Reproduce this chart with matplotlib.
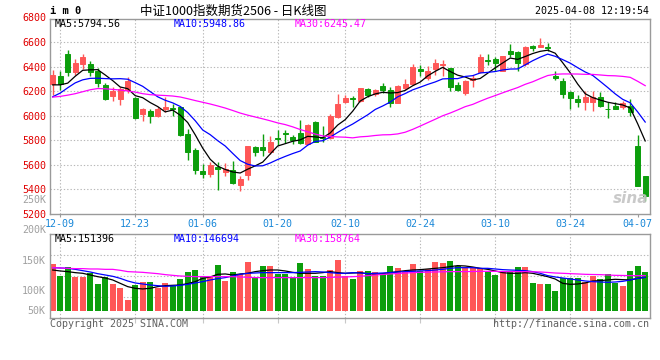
import matplotlib
matplotlib.use("Agg")
import matplotlib.pyplot as plt

plt.rcParams['font.family'] = ['DejaVu Sans Mono']

# ---------------- data ----------------
dates = ['12-06',
         '12-09', '12-10', '12-11', '12-12', '12-13',
         '12-16', '12-17', '12-18', '12-19', '12-20',
         '12-23', '12-24', '12-25', '12-26', '12-27',
         '12-30', '12-31', '01-02', '01-03',
         '01-06', '01-07', '01-08', '01-09', '01-10',
         '01-13', '01-14', '01-15', '01-16', '01-17',
         '01-20', '01-21', '01-22', '01-23', '01-24',
         '01-27', '02-05', '02-06', '02-07',
         '02-10', '02-11', '02-12', '02-13', '02-14',
         '02-17', '02-18', '02-19', '02-20', '02-21',
         '02-24', '02-25', '02-26', '02-27', '02-28',
         '03-03', '03-04', '03-05', '03-06', '03-07',
         '03-10', '03-11', '03-12', '03-13', '03-14',
         '03-17', '03-18', '03-19', '03-20', '03-21',
         '03-24', '03-25', '03-26', '03-27', '03-28',
         '03-31', '04-01', '04-02', '04-03',
         '04-07', '04-08']

opens = [6260, 6325, 6505, 6353, 6423, 6423, 6366, 6252, 6165, 6135,
         6211, 6143, 6016, 6040, 5994, 6054, 6062, 6070, 5853, 5722,
         5551, 5527, 5581, 5538, 5560, 5432, 5513, 5742, 5742, 5701,
         5818, 5858, 5826, 5858, 5771, 5953, 5826, 5818, 5989, 6116,
         6143, 6122, 6220, 6176, 6244, 6206, 6108, 6230, 6260, 6380,
         6304, 6380, 6412, 6388, 6252, 6184, 6293, 6353, 6456, 6464,
         6366, 6532, 6516, 6423, 6570, 6564, 6564, 6328, 6285, 6190,
         6138, 6116, 6116, 6152, 6059, 6076, 6070, 6076, 5755, 5505]
highs = [6374, 6361, 6537, 6461, 6505, 6448, 6388, 6271, 6238, 6238,
         6320, 6157, 6067, 6054, 6075, 6157, 6097, 6081, 5891, 5736,
         5608, 5619, 5622, 5614, 5633, 5505, 5755, 5750, 5853, 5837,
         5885, 5880, 5842, 5967, 5930, 5961, 5913, 6016, 6179, 6171,
         6162, 6228, 6228, 6220, 6266, 6233, 6252, 6298, 6423, 6412,
         6407, 6461, 6453, 6393, 6279, 6293, 6334, 6505, 6505, 6483,
         6488, 6586, 6524, 6570, 6578, 6632, 6592, 6369, 6306, 6198,
         6171, 6198, 6203, 6190, 6116, 6116, 6124, 6135, 5845, 5505]
lows = [6170, 6211, 6325, 6333, 6380, 6325, 6238, 6130, 6124, 6089,
        6184, 5972, 5961, 5945, 5990, 6027, 6000, 5837, 5636, 5527,
        5489, 5497, 5397, 5505, 5445, 5383, 5473, 5674, 5674, 5690,
        5763, 5777, 5769, 5771, 5771, 5785, 5790, 5809, 5985, 6108,
        6070, 6116, 6152, 6165, 6184, 6070, 6103, 6206, 6252, 6328,
        6293, 6334, 6322, 6203, 6198, 6171, 6233, 6347, 6415, 6361,
        6361, 6483, 6369, 6407, 6524, 6559, 6524, 6293, 6143, 6054,
        6070, 6043, 6040, 6070, 5980, 6054, 6057, 6002, 5424, 5301]
closes = [6333, 6260, 6353, 6429, 6478, 6353, 6266, 6138, 6198, 6217,
          6287, 5980, 6054, 6000, 6054, 6070, 6054, 5845, 5701, 5554,
          5527, 5600, 5565, 5565, 5451, 5486, 5755, 5701, 5717, 5782,
          5812, 5850, 5799, 5774, 5926, 5790, 5815, 5994, 6097, 6146,
          6135, 6228, 6171, 6211, 6211, 6108, 6244, 6260, 6401, 6361,
          6361, 6429, 6420, 6233, 6211, 6287, 6306, 6483, 6448, 6429,
          6488, 6505, 6429, 6564, 6551, 6578, 6551, 6306, 6176, 6143,
          6116, 6157, 6149, 6076, 6054, 6059, 6103, 6027, 5429, 5342]

ma5 = [6252, 6252, 6266, 6322, 6370.6, 6374.6, 6375.8, 6332.8, 6286.6, 6234.4,
       6221.2, 6164, 6147.2, 6107.6, 6075, 6031.6, 6046.4, 6004.6, 5944.8, 5844.8,
       5736.2, 5645.4, 5589.4, 5562.2, 5541.6, 5533.4, 5564.4, 5591.6, 5622, 5688.2,
       5753.4, 5772.4, 5792, 5803.4, 5832.2, 5827.8, 5820.8, 5859.8, 5924.4, 5968.4,
       6037.4, 6120, 6155.4, 6178.2, 6191.2, 6185.8, 6189, 6206.8, 6244.8, 6274.8,
       6325.4, 6362.4, 6394.4, 6360.8, 6330.8, 6316, 6291.4, 6304, 6347, 6390.6,
       6430.8, 6470.6, 6459.8, 6483, 6507.4, 6525.4, 6534.6, 6510, 6432.4, 6350.8,
       6258.4, 6179.6, 6148.2, 6128.2, 6110.4, 6099, 6088.2, 6063.8, 5934.4, 5794.56]
ma10 = [6155, 6185, 6228, 6268, 6293, 6305, 6306, 6303, 6301, 6302.5,
        6297.9, 6269.9, 6240, 6197.1, 6154.7, 6126.4, 6105.2, 6075.9, 6026.2, 5959.9,
        5883.9, 5845.9, 5797, 5753.5, 5693.2, 5634.8, 5604.9, 5590.5, 5592.1, 5614.9,
        5643.4, 5668.4, 5691.8, 5712.7, 5760.2, 5790.6, 5796.6, 5825.9, 5863.9, 5900.3,
        5932.6, 5970.4, 6007.6, 6051.3, 6079.8, 6111.6, 6154.5, 6181.1, 6211.5, 6233,
        6255.6, 6275.7, 6300.6, 6302.8, 6302.8, 6320.7, 6326.9, 6349.2, 6353.9, 6360.7,
        6373.4, 6381, 6381.9, 6415, 6449, 6478.1, 6502.6, 6484.9, 6457.7, 6429.1,
        6391.9, 6357.1, 6329.1, 6280.3, 6230.6, 6178.7, 6133.9, 6106, 6031.3, 5948.86]
ma30 = [6152, 6158, 6168, 6180, 6196, 6212, 6222, 6220, 6215, 6210,
        6202, 6193, 6180, 6172, 6168, 6165, 6161, 6153, 6139, 6124,
        6110, 6096, 6080, 6063, 6043, 6022, 6005, 5990, 5975, 5959.1,
        5941.7, 5928.1, 5909.6, 5887.8, 5869.4, 5850.6, 5835.6, 5830.8, 5827.4, 5825,
        5820, 5828.2, 5832.1, 5839.2, 5844.4, 5845.7, 5852, 5865.8, 5889.2, 5916.1,
        5943.9, 5971.5, 6000, 6022.3, 6047.6, 6074.3, 6092.7, 6118.7, 6143.1, 6164.7,
        6187.2, 6209, 6230, 6256.4, 6277.2, 6303.5, 6328, 6338.4, 6341, 6340.9,
        6340.3, 6337.9, 6337.2, 6332.7, 6327.5, 6325.8, 6321.1, 6313.4, 6281, 6245.47]

# volume in thousands (as read on the panel's own scale)
volume_k = [143.3, 123.3, 138.3, 122.2, 122.2, 128.9, 110, 121.1, 110, 103.9,
            83.3, 108.3, 112.8, 112.8, 103.9, 111.1, 108.3, 118.3, 130, 133.3,
            122.2, 122.2, 141.7, 115, 130, 126.1, 146.7, 119.4, 140, 140,
            126.7, 126.7, 122.2, 145, 135.6, 123.9, 123.9, 133.3, 150, 123.9,
            118.3, 131.7, 131.7, 130, 127.2, 140, 136.7, 130, 143.3, 131.7,
            135, 146.7, 145, 148.3, 140, 136.7, 136.7, 136.7, 130, 125,
            131.7, 130, 138.3, 138.3, 111.7, 110, 110, 98.3, 120.6, 120.6,
            120.6, 113.3, 123.9, 118.3, 126.7, 111.7, 106.7, 131.7, 140, 130]
vma5 = [133.3, 131.7, 130.6, 128.9, 127.8, 125, 122.2, 120, 116.7, 111.1,
        105.6, 102.8, 101.7, 102.8, 105.6, 107.2, 107.8, 108.3, 110.6, 113.9,
        119.4, 121.7, 126.1, 126.7, 125, 126.7, 127.8, 130.6, 132.2, 133.3,
        133.3, 131.7, 129.4, 127.8, 127.8, 127.8, 128.9, 130.6, 128.9, 127.8,
        128.3, 128.9, 127.2, 126.1, 127.2, 128.9, 130.6, 132.2, 133.3, 133.9,
        135, 136.1, 137.2, 138.9, 140.6, 140, 138.3, 136.1, 134.4, 131.7,
        128.9, 127.8, 127.8, 128.9, 127.8, 125, 122.2, 118.3, 111.1, 109.4,
        110, 111.7, 115, 115.6, 116.7, 117.8, 117.2, 116.7, 119.4, 121.1]
vma10 = [137.2, 136.7, 136.1, 134.4, 132.2, 130, 127.2, 125, 122.8, 119.4,
         115, 111.7, 110, 108.3, 107.2, 106.1, 106.7, 107.8, 109.4, 111.7,
         113.9, 116.7, 118.9, 120.6, 123.3, 126.1, 127.8, 128.3, 128.9, 128.9,
         128.9, 128.9, 128.9, 129.4, 130, 130.6, 130, 128.9, 127.8, 127.8,
         128.9, 128.3, 127.2, 127.8, 128.3, 128.9, 130, 130.6, 131.1, 131.7,
         132.2, 133.3, 134.4, 136.1, 137.2, 137.2, 137.2, 136.1, 136.1, 135,
         133.9, 133.3, 132.8, 132.2, 130.6, 127.8, 123.9, 121.7, 120, 118.3,
         116.7, 115, 113.9, 113.3, 112.8, 113.3, 114.4, 116.7, 119.4, 121.1]
vma30 = [137.2, 136.7, 136.1, 135.6, 135.6, 135, 135, 134.4, 134.4, 132.8,
         130.6, 130, 129.4, 128.3, 127.2, 125.6, 124.4, 123.3, 122.8, 122.2,
         122.2, 122.2, 122.2, 122.2, 122.2, 121.7, 121.1, 120.6, 120.6, 120.6,
         120.6, 120.6, 120.6, 120.6, 120.6, 120.6, 120.6, 121.1, 121.4, 121.7,
         122.2, 122.8, 123.9, 125, 125.8, 126.7, 127.5, 128.3, 128.9, 129.4,
         129.7, 130, 130.3, 130.6, 130.6, 130.6, 130.8, 131.1, 131.1, 131.1,
         130.8, 130.6, 130.6, 130.6, 130.3, 130, 129.2, 128.3, 127.8, 127.2,
         126.7, 126.1, 125.8, 125.6, 125, 124.4, 124.2, 123.9, 123.9, 123.9]

tick_dates = ['12-09', '12-23', '01-06', '01-20', '02-10', '02-24', '03-10', '03-24', '04-07']
price_ticks = [5200, 5400, 5600, 5800, 6000, 6200, 6400, 6600]
price_top_label = 6800
vol_tick_k = [100, 150]
vol_extra_labels = [(250, '250K'), (200, '200K')]
vol_base_k = 65          # bars start here on the panel scale
vol_base_label = '50K'

title = '中证1000指数期货2506 - 日K线图'
symbol = 'i m 0'
stamp = '2025-04-08 12:19:54'
ma_texts = ['MA5:5794.56', 'MA10:5948.86', 'MA30:6245.47']
vma_texts = ['MA5:151396', 'MA10:146694', 'MA30:158764']

for arr in (opens, highs, lows, closes, ma5, ma10, ma30, volume_k, vma5, vma10, vma30):
    assert len(arr) == len(dates), len(arr)

# ---------------- style ----------------
RED = '#ff5757'
GREEN = '#0c9e0c'
GRIDC = '#b8b8b8'
SPINE = '#9a9a9a'
LBL_RED = '#e00000'
LBL_BLUE = '#1a88d8'
LBL_GRAY = '#a0a0a0'
MA_COLORS = ['#000000', '#0000ff', '#ff00ff']
FS = 7.2
W, H = 660, 360

fig = plt.figure(figsize=(W / 100, H / 100), dpi=100)
fig.patch.set_facecolor('white')


def fx(x):
    return x / W


def fy(y):
    return 1 - y / H


ax = fig.add_axes([fx(50), fy(214), 600 / W, 195 / H])
ax2 = fig.add_axes([fx(50), fy(317.7), 600 / W, 83.4 / H])

n = len(dates)
xs = list(range(n))
up = [c >= o for o, c in zip(opens, closes)]
cols = [RED if u else GREEN for u in up]
xlim = (-0.36, 79.64)

# ---------------- price panel ----------------
tick_pos = [dates.index(d) for d in tick_dates]
grid_style = dict(color=GRIDC, lw=0.8, ls=(0, (1.2, 1.8)), zorder=0)
for p in price_ticks[1:]:
    ax.axhline(p, **grid_style)
for tp in tick_pos[:-1]:
    ax.axvline(tp, **grid_style)

ax.vlines(xs, lows, highs, colors=cols, lw=1.0, zorder=2)
bottoms = [min(o, c) for o, c in zip(opens, closes)]
heights = [abs(c - o) for o, c in zip(opens, closes)]
ax.bar(xs, heights, bottom=bottoms, width=0.72, color=cols, edgecolor=cols,
       linewidth=0.7, zorder=3)

for series, c in zip((ma5, ma10, ma30), MA_COLORS):
    ax.plot(xs, series, color=c, lw=0.9, zorder=4)

ax.set_xlim(*xlim)
ax.set_ylim(5199, 6789)
ax.set_yticks(price_ticks)
ax.set_yticklabels([str(p) for p in price_ticks])
ax.tick_params(axis='y', length=0, pad=2.6, labelsize=FS, labelcolor=LBL_RED)
ax.set_xticks(tick_pos)
ax.set_xticklabels(tick_dates)
ax.tick_params(axis='x', length=2.5, width=0.8, color=SPINE, pad=1.0,
               labelsize=FS, labelcolor=LBL_BLUE)
for s in ax.spines.values():
    s.set_color(SPINE)
    s.set_linewidth(1.0)
ax.text(-0.006, price_top_label, str(price_top_label), transform=ax.get_yaxis_transform(),
        ha='right', va='center', fontsize=FS, color=LBL_RED, clip_on=False)

# legend texts (top panel)
for t, c, x in zip(ma_texts, MA_COLORS, (55, 174, 295)):
    fig.text(fx(x), fy(24), t, color=c, fontsize=FS, ha='left', va='center')

# sina watermark
fig.text(fx(648), fy(198), 'sina', color='#c4c4c4', fontsize=11, fontweight='bold',
         fontstyle='italic', family=['DejaVu Sans'], ha='right', va='center', alpha=0.9)

# ---------------- volume panel ----------------
vlo, vhi = 53.8, 192.8
for g in [vlo + (vhi - vlo) * k / 4 for k in (1, 2, 3)]:
    ax2.axhline(g, **grid_style)
for tp in tick_pos[:-1]:
    ax2.axvline(tp, **grid_style)

ax2.bar(xs, [v - vol_base_k for v in volume_k], bottom=vol_base_k, width=0.8,
        color=cols, edgecolor='none', zorder=2)
for series, c in zip((vma5, vma10, vma30), MA_COLORS):
    ax2.plot(xs, series, color=c, lw=0.9, zorder=4)

ax2.set_xlim(*xlim)
ax2.set_ylim(vlo, vhi)
ax2.set_yticks(vol_tick_k)
ax2.set_yticklabels([f'{v}K' for v in vol_tick_k])
ax2.tick_params(axis='y', length=0, pad=3.0, labelsize=FS, labelcolor=LBL_GRAY)
ax2.set_xticks(tick_pos[:-1])
ax2.set_xticklabels([])
ax2.tick_params(axis='x', length=3.5, width=0.8, color='#c8c8c8')
for s in ax2.spines.values():
    s.set_color(SPINE)
    s.set_linewidth(1.0)
for v, lab in vol_extra_labels:
    ax2.text(-0.007, v, lab, transform=ax2.get_yaxis_transform(), ha='right',
             va='center', fontsize=FS, color=LBL_GRAY, clip_on=False)
ax2.text(-0.007, vol_base_k, vol_base_label, transform=ax2.get_yaxis_transform(),
         ha='right', va='center', fontsize=FS, color=LBL_GRAY, clip_on=False)

for t, c, x in zip(vma_texts, MA_COLORS, (55, 174, 295)):
    fig.text(fx(x), fy(239), t, color=c, fontsize=FS, ha='left', va='center')

# ---------------- header / footer ----------------
fig.text(fx(50), fy(11), symbol, fontsize=FS + 0.3, fontweight='bold', ha='left',
         va='center', color='black')
fig.text(fx(140), fy(11), title, fontsize=9, ha='left', va='center', color='black',
         family=['Noto Sans CJK SC', 'DejaVu Sans'])
fig.text(fx(649), fy(11.5), stamp, fontsize=FS, ha='right', va='center', color='black')
fig.text(fx(50), fy(324), 'Copyright 2025 SINA.COM', fontsize=FS, ha='left',
         va='center', color='#606060')
fig.text(fx(649), fy(324), 'http://finance.sina.com.cn', fontsize=FS, ha='right',
         va='center', color='#606060')

fig.savefig('out.png', dpi=100, facecolor='white')
